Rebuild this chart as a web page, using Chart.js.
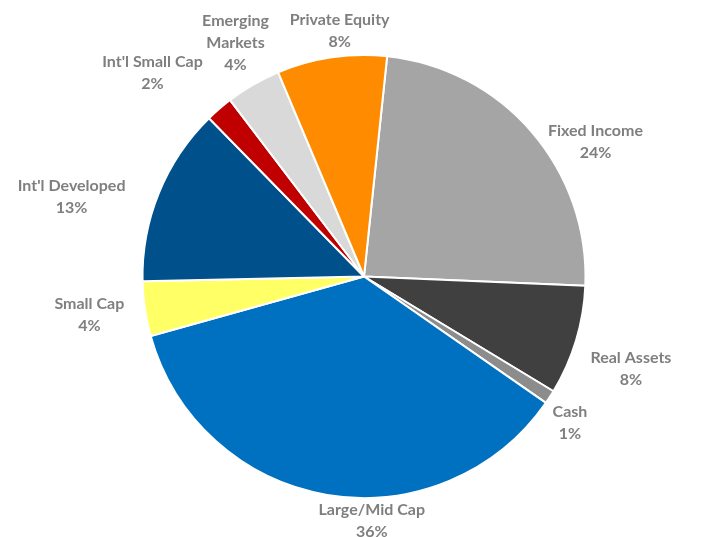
<!DOCTYPE html>
<html>
<head>
<meta charset="utf-8">
<script src="https://cdn.jsdelivr.net/npm/chart.js@4/dist/chart.umd.min.js"></script>
<style>
html,body{margin:0;padding:0;background:#fff;}
#wrap{width:715px;height:537px;position:relative;}
</style>
</head>
<body>
<div id="wrap"><canvas id="c" width="715" height="537"></canvas></div>
<script>
const categories = ["Fixed Income","Real Assets","Cash","Large/Mid Cap","Small Cap","Int'l Developed","Int'l Small Cap","Emerging Markets","Private Equity"];
const labelLines = [["Fixed Income"],["Real Assets"],["Cash"],["Large/Mid Cap"],["Small Cap"],["Int'l Developed"],["Int'l Small Cap"],["Emerging","Markets"],["Private Equity"]];
const values = [24, 8, 1, 36, 4, 13, 2, 4, 8];
const colors = ["#A5A5A5","#404040","#8C8C8C","#0070C0","#FFFF66","#00508C","#C00000","#D9D9D9","#FF8C00"];
// label anchor positions relative to pie centre, in units of radius
const labelOffsets = [[1.045,-0.61],[1.205,0.415],[0.93,0.66],[0.035,1.105],[-1.24,0.175],[-1.32,-0.36],[-0.955,-0.92],[-0.58,-1.055],[-0.11,-1.11]];

const labelPlugin = {
  id: 'outerLabels',
  afterDatasetsDraw(chart) {
    const ctx = chart.ctx;
    const meta = chart.getDatasetMeta(0);
    const total = values.reduce((a,b)=>a+b,0);
    ctx.save();
    ctx.font = 'bold 16px Lato, "Open Sans", sans-serif';
    ctx.fillStyle = '#7F7F7F';
    ctx.textAlign = 'center';
    ctx.textBaseline = 'middle';
    const lh = 22;
    meta.data.forEach((arc, i) => {
      const r = arc.outerRadius;
      const cx = arc.x + labelOffsets[i][0]*r;
      const cy = arc.y + labelOffsets[i][1]*r;
      const lines = labelLines[i].concat([Math.round(values[i]/total*100) + '%']);
      const y0 = cy - (lines.length-1)*lh/2;
      lines.forEach((t, k) => ctx.fillText(t, cx, y0 + k*lh));
    });
    ctx.restore();
  }
};

new Chart(document.getElementById('c'), {
  type: 'pie',
  data: {
    labels: categories,
    datasets: [{
      data: values,
      backgroundColor: colors,
      borderColor: '#FFFFFF',
      borderWidth: 2
    }]
  },
  options: {
    responsive: false,
    animation: false,
    rotation: 6,
    layout: { padding: { top: 54, bottom: 38, left: 13, right: 0 } },
    plugins: {
      legend: { display: false },
      tooltip: { enabled: false }
    }
  },
  plugins: [labelPlugin]
});
</script>
</body>
</html>
